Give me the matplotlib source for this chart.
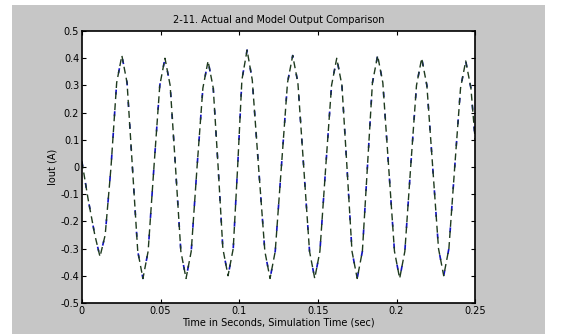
import numpy as np
from matplotlib import pyplot as plt
from matplotlib.patches import Rectangle

# peaks / troughs
ext_t = [0.0115, 0.0254, 0.0388, 0.0528, 0.0662, 0.0802, 0.0929, 0.1050, 0.1196,
         0.1340, 0.1480, 0.1620, 0.1750, 0.1880, 0.2020, 0.2160, 0.2300, 0.2440]
ext_v = [-0.33, 0.41, -0.41, 0.40, -0.41, 0.39, -0.40, 0.43, -0.41,
         0.41, -0.41, 0.40, -0.41, 0.41, -0.41, 0.40, -0.40, 0.39]
# zero crossings
cross_t = [0.0185, 0.0321, 0.0458, 0.0595, 0.0732, 0.0866, 0.0990, 0.1123, 0.1268,
           0.1410, 0.1550, 0.1685, 0.1815, 0.1950, 0.2090, 0.2230, 0.2370]
# shoulders near each peak / trough, plus the two ends
sh_t = [0.0, 0.0040, 0.0082, 0.0148, 0.0221, 0.0287, 0.0355, 0.0421, 0.0495, 0.0561,
        0.0629, 0.0695, 0.0769, 0.0835, 0.0896, 0.0962, 0.1017, 0.1083,
        0.1163, 0.1229, 0.1307, 0.1373, 0.1447, 0.1513, 0.1587, 0.1653,
        0.1717, 0.1783, 0.1847, 0.1913, 0.1987, 0.2053, 0.2127, 0.2193,
        0.2267, 0.2333, 0.2407, 0.2473, 0.2500]
sh_v = [0.02, -0.12, -0.25, -0.25, 0.31, 0.31, -0.31, -0.31, 0.30, 0.30,
        -0.31, -0.31, 0.29, 0.29, -0.30, -0.30, 0.32, 0.32,
        -0.31, -0.31, 0.31, 0.31, -0.31, -0.31, 0.30, 0.30,
        -0.31, -0.31, 0.31, 0.31, -0.31, -0.31, 0.30, 0.30,
        -0.30, -0.30, 0.29, 0.29, 0.10]

t = np.array(ext_t + cross_t + sh_t)
v = np.array(ext_v + [0.0] * len(cross_t) + sh_v)
order = np.argsort(t)
t, v = t[order], v[order]

xticks = [0, 0.05, 0.1, 0.15, 0.2, 0.25]
xlabels = ["0", "0.05", "0.1", "0.15", "0.2", "0.25"]
yticks = [-0.5, -0.4, -0.3, -0.2, -0.1, 0, 0.1, 0.2, 0.3, 0.4, 0.5]
ylabels = ["-0.5", "-0.4", "-0.3", "-0.2", "-0.1", "0", "0.1", "0.2", "0.3", "0.4", "0.5"]

fig = plt.figure(figsize=(5.61, 3.34), dpi=100, facecolor="white")
# grey window behind the plot
fig.patches.append(Rectangle((12 / 561, 0), 533 / 561, 1 - 5 / 334,
                             transform=fig.transFigure, facecolor="#c6c6c6",
                             edgecolor="none", zorder=-10))
ax = fig.add_axes([0.146, 0.093, 0.701, 0.814])

ax.plot(t, v, color="#1010c0", linewidth=1.2, dashes=(3, 10))
ax.plot(t, v, color="#1e3a1e", linewidth=1.0, dashes=(5, 3))

ax.set_xlim(0, 0.25)
ax.set_ylim(-0.5, 0.5)
ax.set_xticks(xticks, xlabels, fontsize=7)
ax.set_yticks(yticks, ylabels, fontsize=7)
ax.tick_params(direction="in", top=True, right=True, length=3, pad=2)
for s in ax.spines.values():
    s.set_linewidth(1.2)

ax.set_title("2-11. Actual and Model Output Comparison", fontsize=7, pad=6)
ax.set_xlabel("Time in Seconds, Simulation Time (sec)", fontsize=7, labelpad=1)
ax.set_ylabel("Iout (A)", fontsize=7, labelpad=2)

plt.savefig("out.png", dpi=100, facecolor=fig.get_facecolor())
